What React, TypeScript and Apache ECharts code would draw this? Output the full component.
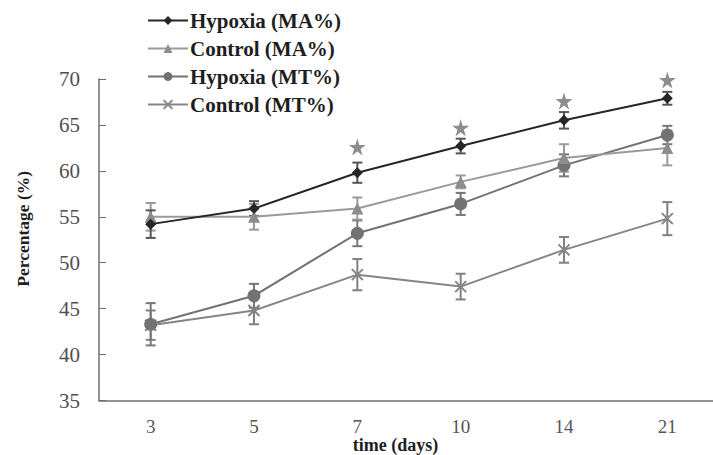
import React, { useEffect, useRef } from "react";
import * as echarts from "echarts";

const days = ["3", "5", "7", "10", "14", "21"];
const seriesNames = ["Hypoxia (MA%)", "Control (MA%)", "Hypoxia (MT%)", "Control (MT%)"];
const hypoxiaMA = [54.2, 55.9, 59.8, 62.7, 65.5, 67.9];
const hypoxiaMAErr = [1.5, 0.8, 1.1, 0.8, 0.9, 0.7];
const controlMA = [55.0, 55.0, 55.9, 58.8, 61.4, 62.5];
const controlMAErr = [1.5, 1.4, 1.2, 0.7, 1.5, 1.9];
const hypoxiaMT = [43.3, 46.4, 53.2, 56.4, 60.6, 63.9];
const hypoxiaMTErr = [2.3, 1.3, 1.4, 1.2, 1.2, 1.0];
const controlMT = [43.2, 44.8, 48.7, 47.4, 51.4, 54.8];
const controlMTErr = [1.6, 1.5, 1.7, 1.4, 1.4, 1.8];
const starMarks = [null, null, 62.6, 64.7, 67.6, 69.9];
const yTicks = { min: 35, max: 70, interval: 5 };

const FONT = "'Liberation Serif', 'DejaVu Serif', serif";
const STAR = "path://M50,0 L61,35 L98,35 L68,57 L79,91 L50,70 L21,91 L32,57 L2,35 L39,35 Z";
const CROSS = "path://M0,0 L10,10 M10,0 L0,10";

function errData(vals: number[], errs: number[]) {
  return vals.map((v, i) => [i, v - errs[i], v + errs[i]]);
}

function errSeries(vals: number[], errs: number[], color: string, z: number) {
  return {
    type: "custom",
    silent: true,
    z,
    encode: { x: 0, y: [1, 2] },
    data: errData(vals, errs),
    renderItem: (params: any, api: any) => {
      const x = api.value(0);
      const lo = api.coord([x, api.value(1)]);
      const hi = api.coord([x, api.value(2)]);
      const hw = 5;
      const style = { stroke: color, lineWidth: 2 };
      return {
        type: "group",
        children: [
          { type: "line", shape: { x1: lo[0], y1: lo[1], x2: hi[0], y2: hi[1] }, style },
          { type: "line", shape: { x1: hi[0] - hw, y1: hi[1], x2: hi[0] + hw, y2: hi[1] }, style },
          { type: "line", shape: { x1: lo[0] - hw, y1: lo[1], x2: lo[0] + hw, y2: lo[1] }, style },
        ],
      };
    },
  };
}

export default function App() {
  const ref = useRef<HTMLDivElement>(null);
  useEffect(() => {
    if (!ref.current) return;
    const chart = echarts.init(ref.current, null, { renderer: "svg" });
    const axisGray = "#6e6e6e";
    chart.setOption({
      animation: false,
      backgroundColor: "#ffffff",
      grid: { left: 99, top: 79, width: 620, height: 321.5, outerBoundsMode: "none", containLabel: false },
      legend: {
        data: seriesNames,
        orient: "vertical",
        left: 142,
        top: 5,
        itemWidth: 40,
        itemHeight: 11,
        itemGap: 7,
        textStyle: { fontFamily: FONT, fontSize: 21, fontWeight: "bold", color: "#1e1e1e", padding: [0, 0, 0, -3] },
      },
      xAxis: [
        {
          type: "category",
          data: days,
          boundaryGap: true,
          axisLine: { lineStyle: { color: axisGray, width: 1.5 } },
          axisTick: { inside: true, length: 5, alignWithLabel: false, lineStyle: { color: axisGray } },
          axisLabel: { fontFamily: FONT, fontSize: 19, color: "#555", margin: 16 },
          name: "time (days)",
          nameLocation: "middle",
          nameGap: 35.5,
          nameMoveOverlap: false,
          nameTextStyle: { fontFamily: FONT, fontSize: 18, fontWeight: "bold", color: "#1e1e1e", padding: [0, 27, 0, 0] },
          splitLine: { show: false },
        },
        {
          type: "category",
          data: days,
          boundaryGap: true,
          position: "bottom",
          axisLine: { show: false },
          axisTick: { inside: true, length: 5, alignWithLabel: true, lineStyle: { color: axisGray } },
          axisLabel: { show: false },
          splitLine: { show: false },
        },
      ],
      yAxis: {
        type: "value",
        min: yTicks.min,
        max: yTicks.max,
        interval: yTicks.interval,
        axisLine: { show: true, lineStyle: { color: axisGray, width: 1.5 } },
        axisTick: { show: true, inside: true, length: 7, lineStyle: { color: axisGray } },
        axisLabel: { fontFamily: FONT, fontSize: 21, color: "#505050", margin: 19 },
        splitLine: { show: false },
        name: "Percentage (%)",
        nameLocation: "middle",
        nameRotate: 90,
        nameGap: 67,
        nameMoveOverlap: false,
        nameTextStyle: { fontFamily: FONT, fontSize: 17.5, fontWeight: "bold", color: "#1e1e1e", padding: [0, 0, 0, 22] },
      },
      series: [
        errSeries(controlMT, controlMTErr, "#808080", 1),
        errSeries(hypoxiaMT, hypoxiaMTErr, "#777777", 1),
        errSeries(controlMA, controlMAErr, "#9a9a9a", 1),
        errSeries(hypoxiaMA, hypoxiaMAErr, "#555555", 1),
        {
          name: seriesNames[3],
          type: "line",
          data: controlMT,
          z: 2,
          symbol: CROSS,
          symbolSize: 11,
          lineStyle: { color: "#858585", width: 2 },
          itemStyle: { color: "#858585", borderColor: "#858585", borderWidth: 2 },
        },
        {
          name: seriesNames[2],
          type: "line",
          data: hypoxiaMT,
          z: 3,
          symbol: "circle",
          symbolSize: 13,
          lineStyle: { color: "#727272", width: 2 },
          itemStyle: { color: "#727272" },
        },
        {
          name: seriesNames[1],
          type: "line",
          data: controlMA,
          z: 4,
          symbol: "triangle",
          symbolSize: 12,
          lineStyle: { color: "#9a9a9a", width: 2 },
          itemStyle: { color: "#8c8c8c" },
        },
        {
          name: seriesNames[0],
          type: "line",
          data: hypoxiaMA,
          z: 5,
          symbol: "diamond",
          symbolSize: 11,
          lineStyle: { color: "#262626", width: 2 },
          itemStyle: { color: "#262626" },
        },
        {
          name: "significance",
          type: "scatter",
          data: starMarks,
          symbol: STAR,
          symbolSize: 17,
          itemStyle: { color: "#707070" },
          z: 6,
        },
      ],
    });
    return () => chart.dispose();
  }, []);
  return (
    <div
      ref={ref}
      style={{ position: "absolute", left: 0, top: 0, width: 713, height: 455, background: "#fff" }}
    />
  );
}
